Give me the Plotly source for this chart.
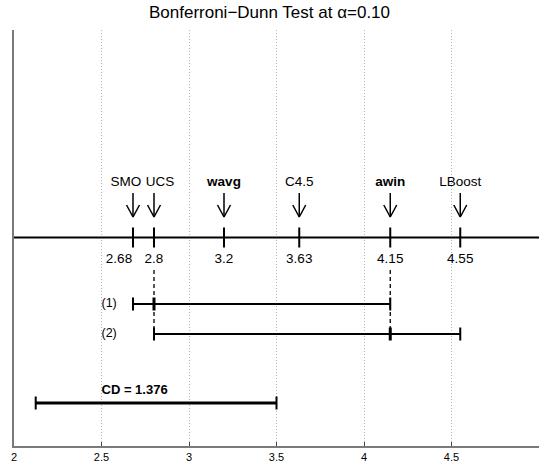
import plotly.graph_objects as go

# ---------------- data ----------------
methods = ["SMO", "UCS", "wavg", "C4.5", "awin", "LBoost"]
ranks = [2.68, 2.8, 3.2, 3.63, 4.15, 4.55]
rank_labels = ["2.68", "2.8", "3.2", "3.63", "4.15", "4.55"]
bold_methods = ["wavg", "awin"]
# groups of methods not significantly different
group_names = ["(1)", "(2)"]
group_start = [2.68, 2.8]
group_end = [4.15, 4.55]
group_inner = [[2.8], [4.15]]
control_ranks = [2.8, 4.15]  # dashed guides
cd_value = 1.376
cd_end = 3.5
x_ticks = [2, 2.5, 3, 3.5, 4, 4.5]
x_tick_text = ["2", "2.5", "3", "3.5", "4", "4.5"]
title = "Bonferroni\u2212Dunn Test at \u03b1=0.10"

# ---------------- layout constants (vertical positions in pixel-like units) ----------------
X_MIN, X_MAX = 2.0, 5.0
Y_LABEL = 183
Y_ARROW_TOP, Y_ARROW_ARM, Y_ARROW_TIP = 193, 205, 217
Y_AXIS = 237.5
TICK_HALF = 10
Y_RANK = 260
Y_DASH_TOP = 270
Y_GROUPS = [304, 334]
CAP = 6.5
Y_CD_TEXT = 391
Y_CD = 403
ARM_DX = 0.037
LABEL_NUDGE = {"SMO": -0.04, "UCS": 0.035}
RANK_NUDGE = {"2.68": -0.08}
FONT = "Liberation Sans, Arial, Helvetica, sans-serif"

fig = go.Figure()

def seg_trace(xs, ys, width, dash="solid", color="black"):
    fig.add_trace(go.Scatter(x=xs, y=ys, mode="lines", hoverinfo="skip",
                             line=dict(color=color, width=width, dash=dash),
                             showlegend=False, cliponaxis=False))

# main axis line
seg_trace([X_MIN, X_MAX], [Y_AXIS, Y_AXIS], 2)

# rank ticks and arrows
tx, ty, ax, ay = [], [], [], []
for r in ranks:
    tx += [r, r, None]
    ty += [Y_AXIS - TICK_HALF, Y_AXIS + TICK_HALF, None]
    ax += [r, r, None, r - ARM_DX, r, r + ARM_DX, None]
    ay += [Y_ARROW_TOP, Y_ARROW_TIP, None, Y_ARROW_ARM, Y_ARROW_TIP, Y_ARROW_ARM, None]
seg_trace(tx, ty, 2)
seg_trace(ax, ay, 1.5)

# method labels
for m, r in zip(methods, ranks):
    txt = f"<b>{m}</b>" if m in bold_methods else m
    fig.add_trace(go.Scatter(x=[r + LABEL_NUDGE.get(m, 0)], y=[Y_LABEL], mode="text",
                             text=[txt], textposition="middle center",
                             textfont=dict(family=FONT, size=13.5, color="black"),
                             showlegend=False, hoverinfo="skip", cliponaxis=False))
# rank values
fig.add_trace(go.Scatter(x=[r + RANK_NUDGE.get(t, 0) for r, t in zip(ranks, rank_labels)],
                         y=[Y_RANK] * len(ranks), mode="text", text=rank_labels,
                         textposition="middle center",
                         textfont=dict(family=FONT, size=13.5, color="black"),
                         showlegend=False, hoverinfo="skip", cliponaxis=False))

# dashed guides down to the last group containing each control rank
for c in control_ranks:
    ybot = max(Y_GROUPS[i] for i in range(len(group_names))
               if group_start[i] <= c <= group_end[i])
    seg_trace([c, c], [Y_DASH_TOP, ybot], 1.3, dash="4px,3px")

# group brackets
for i, name in enumerate(group_names):
    y = Y_GROUPS[i]
    seg_trace([group_start[i], group_end[i]], [y, y], 2)
    cx, cy = [], []
    for p in [group_start[i], group_end[i]]:
        cx += [p, p, None]
        cy += [y - CAP, y + CAP, None]
    seg_trace(cx, cy, 2)
    ix, iy = [], []
    for p in group_inner[i]:
        ix += [p, p, None]
        iy += [y - CAP, y + CAP, None]
    seg_trace(ix, iy, 3)
    fig.add_trace(go.Scatter(x=[2.5], y=[y], mode="text", text=[name],
                             textposition="middle right",
                             textfont=dict(family=FONT, size=12.5, color="black"),
                             showlegend=False, hoverinfo="skip", cliponaxis=False))

# CD bar
cd_start = cd_end - cd_value
seg_trace([cd_start, cd_end], [Y_CD, Y_CD], 3)
seg_trace([cd_start, cd_start, None, cd_end, cd_end],
          [Y_CD - CAP, Y_CD + CAP, None, Y_CD - CAP, Y_CD + CAP], 2)
fig.add_trace(go.Scatter(x=[2.5], y=[Y_CD_TEXT], mode="text",
                         text=[f"<b>CD = {cd_value}</b>"], textposition="middle right",
                         textfont=dict(family=FONT, size=13, color="black"),
                         showlegend=False, hoverinfo="skip", cliponaxis=False))

fig.update_layout(
    width=539, height=463,
    margin=dict(l=14, r=0, t=30, b=17),
    paper_bgcolor="white", plot_bgcolor="white",
    title=dict(text=title, x=0.5, xanchor="center", y=1 - 12 / 463, yanchor="middle",
               font=dict(family=FONT, size=17, color="black")),
    xaxis=dict(range=[X_MIN, X_MAX], tickvals=x_ticks, ticktext=x_tick_text,
               showgrid=True, gridcolor="#b4b4b4", griddash="1px,2px", gridwidth=1,
               showline=True, linecolor="#7a7a7a", linewidth=2,
               ticks="inside", ticklen=4, tickcolor="#444444", tickwidth=1,
               tickfont=dict(family=FONT, size=11, color="black"),
               zeroline=False, fixedrange=True),
    yaxis=dict(range=[446, 30], showgrid=False, showticklabels=False, zeroline=False,
               showline=True, linecolor="#7a7a7a", linewidth=2, ticks="", fixedrange=True),
)

fig.write_html("out.html", config={"displayModeBar": False},
               post_script="document.body.style.margin='0';document.body.style.overflow='hidden';")
